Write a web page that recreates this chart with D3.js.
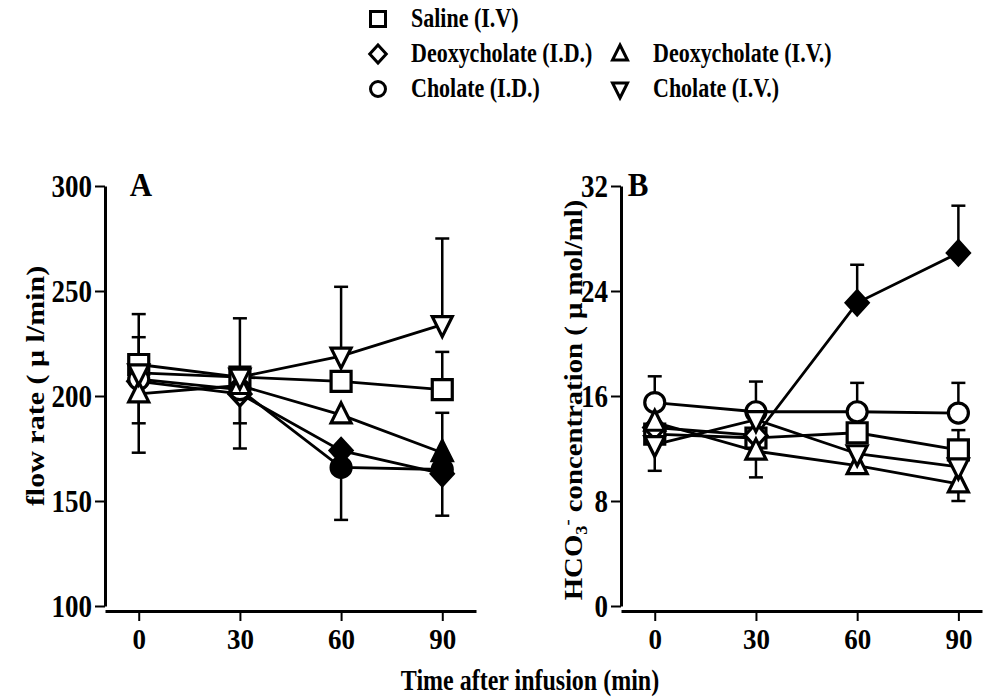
<!DOCTYPE html>
<html>
<head>
<meta charset="utf-8">
<script src="https://cdn.jsdelivr.net/npm/d3@7"></script>
<style>
  body { margin: 0; background: #fff; }
  svg { display: block; }
  text { font-family: "Liberation Serif", "Times New Roman", serif; font-weight: bold; fill: #000; }
</style>
</head>
<body>
<svg id="chart" width="986" height="697"></svg>
<script>
// time points (min)
const times = [0, 30, 60, 90];
const timeTicks = [0, 30, 60, 90];
const flowTicks = [100, 150, 200, 250, 300];
const hco3Ticks = [0, 8, 16, 24, 32];

const seriesNames = ["Saline (I.V)", "Deoxycholate (I.D.)", "Cholate (I.D.)", "Deoxycholate (I.V.)", "Cholate (I.V.)"];
const seriesShapes = ["square", "diamond", "circle", "triangle", "triangleDown"];

// panel A - flow rate (ul/min)
const flowSaline = [215, 209, 207, 203];
const flowDeoxyID = [207, 201, 174, 163];
const flowCholateID = [208, 203, 166, 165];
const flowDeoxyIV = [201, 205, 191, 173];
const flowCholateIV = [211, 209, 219, 234];
// signed SEM: + drawn up, - drawn down, 0 = not shown
const flowSalineErr = [13, 0, 0, 18];
const flowDeoxyIDErr = [0, -26, 0, -20];
const flowCholateIDErr = [-35, 0, -25, 0];
const flowDeoxyIVErr = [-14, -18, 0, 19];
const flowCholateIVErr = [28, 28, 33, 41];
// filled marker = significant
const flowDeoxyIDFilled = [false, false, true, true];
const flowCholateIDFilled = [false, false, true, true];
const flowDeoxyIVFilled = [false, false, false, true];

// panel B - HCO3- concentration (umol/ml)
const hco3Saline = [13.1, 12.8, 13.2, 11.9];
const hco3DeoxyID = [13.6, 13.0, 23.1, 26.9];
const hco3CholateID = [15.5, 14.8, 14.8, 14.7];
const hco3DeoxyIV = [14.0, 11.8, 10.7, 9.3];
const hco3CholateIV = [12.3, 14.2, 11.6, 10.6];
const hco3SalineErr = [0, 0, 0, 1.5];
const hco3DeoxyIDErr = [0, 0, 2.9, 3.6];
const hco3CholateIDErr = [2.0, 2.3, 2.2, 2.3];
const hco3DeoxyIVErr = [0, -2.0, 0, -1.3];
const hco3CholateIVErr = [-2.0, 0, 0, 0];
const hco3DeoxyIDFilled = [false, false, true, true];

const none = [false, false, false, false];

const svg = d3.select("#chart");

function markerPath(shape) {
  if (shape === "square") return "M-10,-10H10V10H-10Z";
  if (shape === "diamond") return "M0,-12L11,0L0,12L-11,0Z";
  if (shape === "triangle") return "M0,-12L10,8L-10,8Z";
  if (shape === "triangleDown") return "M0,12L10,-8L-10,-8Z";
  const p = d3.path();
  p.arc(0, 0, 10, 0, 2 * Math.PI);
  p.closePath();
  return p.toString();
}

function drawPanel(opts) {
  const x = d3.scaleLinear().domain(opts.xDomain).range(opts.xRange);
  const y = d3.scaleLinear().domain(opts.yDomain).range([606, 186]);
  const g = svg.append("g");
  const axisY = 611;

  // axes
  const yAx = g.append("g")
    .attr("transform", `translate(${opts.xRange[0]},0)`)
    .call(d3.axisLeft(y).tickValues(opts.yTicks).tickSize(10).tickPadding(3).tickSizeOuter(0));
  const xAx = g.append("g")
    .attr("transform", `translate(0,${axisY})`)
    .call(d3.axisBottom(x).tickValues(timeTicks).tickSize(10).tickPadding(5).tickSizeOuter(0));

  [yAx, xAx].forEach(a => {
    a.select(".domain").attr("stroke", "#000").attr("stroke-width", 3);
    a.selectAll(".tick line").attr("stroke", "#000").attr("stroke-width", 2);
    a.selectAll(".tick text")
      .style("font-size", "27px")
      .attr("fill", "#000");
  });
  yAx.selectAll(".tick text").attr("transform", "scale(1,1.18)");
  xAx.selectAll(".tick text").attr("transform", "scale(1,1.12)");

  const line = d3.line().x((d, i) => x(times[i])).y(d => y(d));

  // lines
  opts.series.forEach(s => {
    g.append("path")
      .attr("d", line(s.values))
      .attr("fill", "none")
      .attr("stroke", "#000")
      .attr("stroke-width", 2.8);
  });

  // error bars
  opts.series.forEach(s => {
    s.values.forEach((v, i) => {
      const e = s.err[i];
      if (!e) return;
      const xp = x(times[i]);
      g.append("line")
        .attr("x1", xp).attr("x2", xp)
        .attr("y1", y(v)).attr("y2", y(v + e))
        .attr("stroke", "#000").attr("stroke-width", 2.5);
      g.append("line")
        .attr("x1", xp - 7).attr("x2", xp + 7)
        .attr("y1", y(v + e)).attr("y2", y(v + e))
        .attr("stroke", "#000").attr("stroke-width", 2.5);
    });
  });

  // markers
  opts.series.forEach(s => {
    s.values.forEach((v, i) => {
      g.append("path")
        .attr("d", markerPath(s.shape))
        .attr("transform", `translate(${x(times[i])},${y(v)})`)
        .attr("fill", s.filled[i] ? "#000" : "#fff")
        .attr("stroke", "#000")
        .attr("stroke-width", 3.2);
    });
  });

  // panel letter
  svg.append("text")
    .attr("transform", `translate(${opts.letterX},196) scale(1,1.1)`)
    .attr("text-anchor", "middle")
    .style("font-size", "31px")
    .text(opts.letter);
}

drawPanel({
  letter: "A", letterX: 141,
  xDomain: [-10, 100], xRange: [105, 476],
  yDomain: [100, 300], yTicks: flowTicks,
  series: [
    { shape: "square", values: flowSaline, err: flowSalineErr, filled: none },
    { shape: "diamond", values: flowDeoxyID, err: flowDeoxyIDErr, filled: flowDeoxyIDFilled },
    { shape: "circle", values: flowCholateID, err: flowCholateIDErr, filled: flowCholateIDFilled },
    { shape: "triangle", values: flowDeoxyIV, err: flowDeoxyIVErr, filled: flowDeoxyIVFilled },
    { shape: "triangleDown", values: flowCholateIV, err: flowCholateIVErr, filled: none }
  ]
});

drawPanel({
  letter: "B", letterX: 638,
  xDomain: [-10, 97], xRange: [621, 982],
  yDomain: [0, 32], yTicks: hco3Ticks,
  series: [
    { shape: "square", values: hco3Saline, err: hco3SalineErr, filled: none },
    { shape: "diamond", values: hco3DeoxyID, err: hco3DeoxyIDErr, filled: hco3DeoxyIDFilled },
    { shape: "circle", values: hco3CholateID, err: hco3CholateIDErr, filled: none },
    { shape: "triangle", values: hco3DeoxyIV, err: hco3DeoxyIVErr, filled: none },
    { shape: "triangleDown", values: hco3CholateIV, err: hco3CholateIVErr, filled: none }
  ]
});

// axis titles
svg.append("text")
  .attr("transform", "translate(44,386) rotate(-90) scale(1.2,1)")
  .attr("text-anchor", "middle")
  .style("font-size", "25px")
  .text("flow rate ( \u03bc l/min)");

const hco3Label = svg.append("text")
  .attr("transform", "translate(582,400) rotate(-90) scale(1.15,1)")
  .attr("text-anchor", "middle")
  .style("font-size", "25px");
hco3Label.append("tspan").text("HCO");
hco3Label.append("tspan").attr("dy", 5).style("font-size", "16px").text("3");
hco3Label.append("tspan").attr("dy", -14).style("font-size", "16px").text("-");
hco3Label.append("tspan").attr("dy", 9).text(" concentration ( \u03bc mol/ml)");

svg.append("text")
  .attr("transform", "translate(530,690) scale(1,1.2)")
  .attr("text-anchor", "middle")
  .style("font-size", "24px")
  .text("Time after infusion (min)");

// legend
const legendPos = [[378, 19], [378, 54], [378, 89], [620, 54], [620, 89]];
seriesNames.forEach((name, i) => {
  const [lx, ly] = legendPos[i];
  svg.append("path")
    .attr("d", markerPath(seriesShapes[i]))
    .attr("transform", `translate(${lx},${ly}) scale(0.75)`)
    .attr("fill", "#fff")
    .attr("stroke", "#000")
    .attr("stroke-width", 4);
  svg.append("text")
    .attr("transform", `translate(${lx + 33},${ly + 8}) scale(1,1.25)`)
    .style("font-size", "22px")
    .text(name);
});
</script>
</body>
</html>
